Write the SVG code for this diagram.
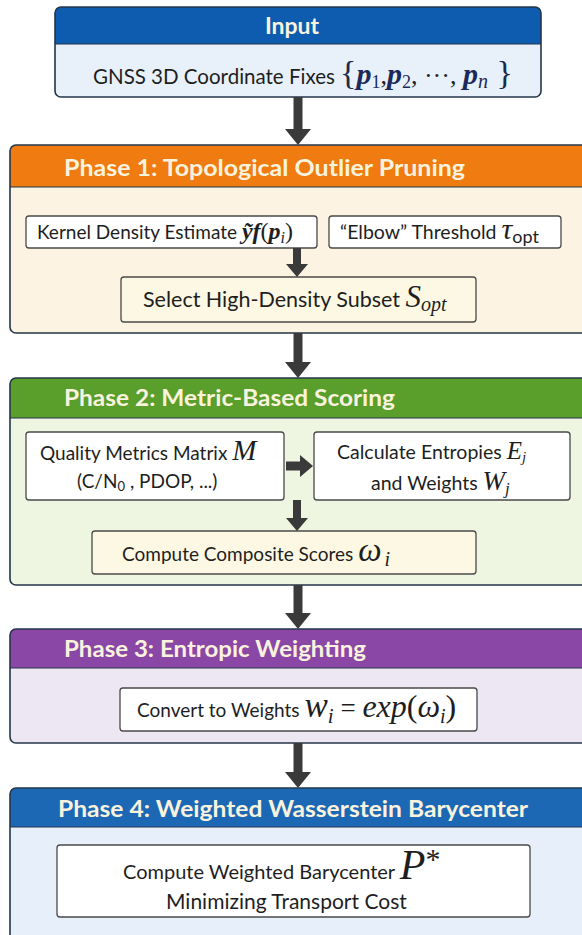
<svg xmlns="http://www.w3.org/2000/svg" width="582" height="935" viewBox="0 0 582 935">
  <style>
    .frame { stroke: #24364a; stroke-width: 1.6; }
    .sep { stroke: #24364a; stroke-width: 1.2; }
    .box { fill: #ffffff; stroke: #4a4a4a; stroke-width: 1.3; }
    .cream { fill: #fdf8e3; stroke: #4a4a4a; stroke-width: 1.3; }
    .title { font-family: Lato, "Open Sans", sans-serif; font-weight: 700; font-size: 23px; fill: #f9f3de; }
    .txt { font-family: Lato, "Open Sans", sans-serif; fill: #1e1e1e; }
    .m { font-family: "Liberation Serif", "DejaVu Serif", serif; font-style: italic; }
    .mb { font-family: "Liberation Serif", "DejaVu Serif", serif; font-style: italic; font-weight: 700; }
    .up { font-family: "Liberation Serif", "DejaVu Serif", serif; }
    .arrow { fill: #3a3a3a; }
  </style>

  <rect width="582" height="935" fill="#ffffff"/>

  <!-- Input -->
  <g id="input">
    <rect x="55" y="7" width="486" height="90" rx="6" fill="#e8f1fa"/>
    <path d="M55 44V13Q55 7 61 7H535Q541 7 541 13V44Z" fill="#0d5cb0"/>
    <line class="sep" x1="55" y1="44" x2="541" y2="44"/>
    <rect class="frame" x="55" y="7" width="486" height="90" rx="6" fill="none"/>
    <text class="title" x="292" y="34" text-anchor="middle">Input</text>
    <text class="txt" x="93" y="84" font-size="20.5">GNSS 3D Coordinate Fixes <tspan class="up" font-size="34" fill="#1b2a4a">{</tspan><tspan class="mb" font-size="30" fill="#1b2a5c">p</tspan><tspan class="up" font-size="18" dy="4" fill="#1b2a5c">1</tspan><tspan class="up" font-size="26" dy="-4">,</tspan><tspan class="mb" font-size="30" fill="#1b2a5c">p</tspan><tspan class="up" font-size="18" dy="4" fill="#1b2a5c">2</tspan><tspan class="up" font-size="26" dy="-4">, ···, </tspan><tspan class="mb" font-size="30" fill="#1b2a5c">p</tspan><tspan class="m" font-size="20" dy="4" fill="#1b2a5c">n</tspan><tspan class="up" font-size="34" dy="-4" fill="#1b2a4a"> }</tspan></text>
  </g>

  <!-- Phase 1 -->
  <g id="phase1">
    <rect x="10" y="145" width="582" height="188" rx="6" fill="#fdf3e3"/>
    <path d="M10 187V151Q10 145 16 145H592V187Z" fill="#f07b10"/>
    <line class="sep" x1="10" y1="187" x2="592" y2="187"/>
    <rect class="frame" x="10" y="145" width="582" height="188" rx="6" fill="none"/>
    <text class="title" x="64" y="176" textLength="401" lengthAdjust="spacingAndGlyphs">Phase 1: Topological Outlier Pruning</text>
  </g>
  <g id="kde">
    <rect class="box" x="26" y="216" width="291" height="32" rx="3"/>
    <text class="txt" x="37" y="239" font-size="19">Kernel Density Estimate <tspan class="mb" font-size="24">ỹf</tspan><tspan class="up" font-size="24">(</tspan><tspan class="mb" font-size="24">p</tspan><tspan class="m" font-size="16" dy="4">i</tspan><tspan class="up" font-size="24" dy="-4">)</tspan></text>
  </g>
  <g id="elbow">
    <rect class="box" x="329" y="216" width="232" height="32" rx="3"/>
    <text class="txt" x="340" y="239" font-size="19.5">“Elbow” Threshold <tspan class="m" font-size="30">τ</tspan><tspan font-size="18" dy="4">opt</tspan></text>
  </g>
  <g id="subset">
    <rect class="cream" x="121" y="277" width="355" height="45" rx="3"/>
    <text class="txt" x="143" y="307" font-size="21.5">Select High-Density Subset <tspan class="m" font-size="31">S</tspan><tspan class="m" font-size="20" dy="4">opt</tspan></text>
  </g>

  <!-- Phase 2 -->
  <g id="phase2">
    <rect x="10" y="378" width="582" height="207" rx="6" fill="#eef5e1"/>
    <path d="M10 418V384Q10 378 16 378H592V418Z" fill="#5a9e2c"/>
    <line class="sep" x1="10" y1="418" x2="592" y2="418"/>
    <rect class="frame" x="10" y="378" width="582" height="207" rx="6" fill="none"/>
    <text class="title" x="64" y="406" textLength="331" lengthAdjust="spacingAndGlyphs">Phase 2: Metric-Based Scoring</text>
  </g>
  <g id="metrics">
    <rect class="box" x="26" y="432" width="258" height="68" rx="3"/>
    <text class="txt" x="40" y="460" font-size="19">Quality Metrics Matrix <tspan class="m" font-size="29">M</tspan></text>
    <text class="txt" x="77" y="488" font-size="19">(C/N<tspan font-size="13" dy="3">0</tspan><tspan dy="-3"> , PDOP, ...)</tspan></text>
  </g>
  <g id="entropies">
    <rect class="box" x="314" y="432" width="256" height="68" rx="3"/>
    <text class="txt" x="337" y="459" font-size="19.5">Calculate Entropies <tspan class="m" font-size="25">E</tspan><tspan class="m" font-size="15" dy="3">j</tspan></text>
    <text class="txt" x="371" y="490" font-size="19.5">and Weights <tspan class="m" font-size="27">W</tspan><tspan class="m" font-size="17" dy="4">j</tspan></text>
  </g>
  <g id="composite">
    <rect class="cream" x="92" y="531" width="384" height="43" rx="3"/>
    <text class="txt" x="122" y="561" font-size="19">Compute Composite Scores <tspan class="m" font-size="33">ω</tspan><tspan class="m" font-size="20" dx="3" dy="5">i</tspan></text>
  </g>

  <!-- Phase 3 -->
  <g id="phase3">
    <rect x="10" y="629" width="582" height="114" rx="6" fill="#ede6f3"/>
    <path d="M10 668V635Q10 629 16 629H592V668Z" fill="#8a47a6"/>
    <line class="sep" x1="10" y1="668" x2="592" y2="668"/>
    <rect class="frame" x="10" y="629" width="582" height="114" rx="6" fill="none"/>
    <text class="title" x="64" y="657" textLength="302" lengthAdjust="spacingAndGlyphs">Phase 3: Entropic Weighting</text>
  </g>
  <g id="convert">
    <rect class="box" x="120" y="688" width="357" height="43" rx="3"/>
    <text class="txt" x="137" y="717" font-size="19">Convert to Weights <tspan class="m" font-size="35">w</tspan><tspan class="m" font-size="21" dy="6">i</tspan><tspan class="up" font-size="27" dy="-6"> = </tspan><tspan class="m" font-size="32">exp</tspan><tspan class="up" font-size="32">(</tspan><tspan class="m" font-size="32">ω</tspan><tspan class="m" font-size="20" dy="6">i</tspan><tspan class="up" font-size="32" dy="-6">)</tspan></text>
  </g>

  <!-- Phase 4 -->
  <g id="phase4">
    <rect x="10" y="788" width="582" height="160" rx="6" fill="#e7f0fa"/>
    <path d="M10 827V794Q10 788 16 788H592V827Z" fill="#1d68b5"/>
    <line class="sep" x1="10" y1="827" x2="592" y2="827"/>
    <rect class="frame" x="10" y="788" width="582" height="160" rx="6" fill="none"/>
    <text class="title" x="58" y="817" textLength="470" lengthAdjust="spacingAndGlyphs">Phase 4: Weighted Wasserstein Barycenter</text>
  </g>
  <g id="barycenter">
    <rect class="box" x="57" y="845" width="473" height="72" rx="3"/>
    <text class="txt" x="123" y="879" font-size="20">Compute Weighted Barycenter <tspan class="m" font-size="42">P</tspan><tspan class="up" font-size="30" dy="-10">*</tspan></text>
    <text class="txt" x="166" y="909" font-size="21">Minimizing Transport Cost</text>
  </g>

  <!-- Connectors -->
  <g id="connectors" class="arrow">
    <path d="M293.5 97V129H285L298 145L311 129H302.5V97Z"/>
    <path d="M293.5 333V362H285L298 378L311 362H302.5V333Z"/>
    <path d="M293.5 585V613H285L298 629L311 613H302.5V585Z"/>
    <path d="M293.5 743V772H285L298 788L311 772H302.5V743Z"/>
    <path d="M293 248V264H286L297 277L308 264H301V248Z"/>
    <path d="M293 500V518H286L297 531L308 518H301V500Z"/>
    <path d="M286 461.5H300V455L313 466L300 477V470.5H286Z"/>
  </g>
</svg>
